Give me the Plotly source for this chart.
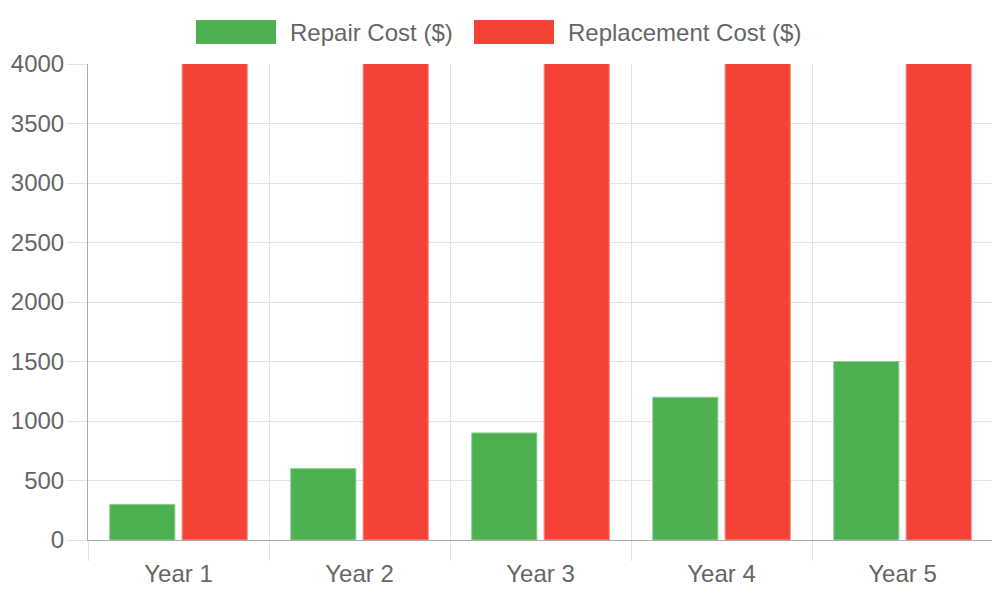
import plotly.graph_objects as go

years = ["Year 1", "Year 2", "Year 3", "Year 4", "Year 5"]
repair_cost = [300, 600, 900, 1200, 1500]
replacement_cost = [5000, 5000, 5000, 5000, 5000]
y_ticks = [0, 500, 1000, 1500, 2000, 2500, 3000, 3500, 4000]

GREEN = "#4CAF50"
RED = "#F44336"
FONT = "Liberation Sans, Arial, sans-serif"
GRID = "#e2e2e2"

xpos = list(range(len(years)))

fig = go.Figure()
fig.add_trace(go.Bar(x=xpos, y=repair_cost, name="Repair Cost ($)",
                     marker=dict(color=GREEN, line=dict(color="#8fd193", width=1))))
fig.add_trace(go.Bar(x=xpos, y=replacement_cost, name="Replacement Cost ($)",
                     marker=dict(color=RED, line=dict(color="#f8897f", width=1))))

# legend drawn by hand to get the wide chart.js style boxes
legend = [("Repair Cost ($)", GREEN, 196, 276, 288), ("Replacement Cost ($)", RED, 474, 554, 566)]
L, R, T, B = 88, 993, 64, 540
for label, col, bx0, bx1, tx in legend:
    fig.add_shape(type="rect", xref="paper", yref="paper",
                  x0=(bx0 - L) / (R - L), x1=(bx1 - L) / (R - L),
                  y0=(B - 44) / (B - T), y1=(B - 20) / (B - T),
                  fillcolor=col, line=dict(width=0))
    fig.add_annotation(text=label, xref="paper", yref="paper",
                       x=(tx - L) / (R - L), y=(B - 32) / (B - T),
                       xanchor="left", yanchor="middle", showarrow=False,
                       font=dict(size=24, color="#666", family=FONT))

fig.update_layout(
    width=1000, height=600,
    margin=dict(l=80, r=15, t=56, b=68),
    plot_bgcolor="white", paper_bgcolor="white",
    barmode="group", bargap=0.2, bargroupgap=0.1,
    showlegend=False,
    font=dict(family=FONT, size=24, color="#666"),
)
fig.update_xaxes(
    range=[-0.5, len(years) - 0.5],
    tickvals=xpos, ticktext=years, ticks="", showgrid=False,
    ticklabelstandoff=12, automargin=False,
    showline=True, linecolor="#aaa", linewidth=1,
    minor=dict(tickvals=[i - 0.5 for i in range(len(years) + 1)], showgrid=True,
               gridcolor=GRID, ticks="outside", ticklen=20, tickcolor=GRID),
    zeroline=False,
)
fig.update_yaxes(
    range=[0, 4000], tickvals=y_ticks, showgrid=True, gridcolor=GRID,
    ticks="outside", ticklen=20, tickcolor=GRID,
    ticklabelstandoff=-2, automargin=False,
    showline=True, linecolor="#aaa", linewidth=1,
    zeroline=False,
)

fig.write_html("out.html")
